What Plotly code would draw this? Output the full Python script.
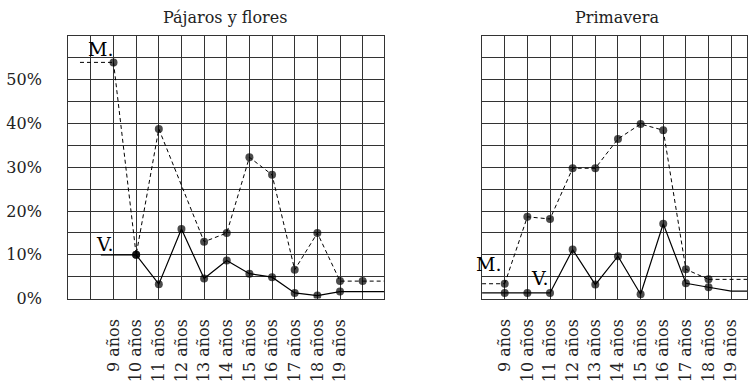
import plotly.graph_objects as go

# Age columns (x positions) and their tick labels
edades = list(range(9, 21))
etiquetas_edad = [f"{a} años" for a in range(9, 20)]
valores_edad = list(range(9, 20))

# Percentages per age: M. (dashed) and V. (solid)
pajaros_m = [54.0, 10.0, 38.8, None, 13.0, 15.0, 32.3, 28.3, 6.6, 15.0, 4.0, 4.0]
pajaros_v = [None, 10.0, 3.3, 15.9, 4.6, 8.7, 5.7, 4.9, 1.3, 0.7, 1.6, None]
primavera_m = [3.4, 18.7, 18.2, 29.8, 29.8, 36.5, 39.9, 38.5, 6.7, 4.4, None, None]
primavera_v = [1.3, 1.3, 1.3, 11.2, 3.2, 9.7, 1.0, 17.1, 3.5, 2.6, 1.7, None]
primavera_v_marcado = [True] * 10 + [False, False]

y_ticks = [0, 10, 20, 30, 40, 50]
y_labels = [f"{v}%" for v in y_ticks]

W, H = 748, 382
FONT = "DejaVu Serif"
INK = "#000000"
GRID = "#333333"

# pixel frame of each panel
top_px, bottom_px = 37.3, 308.3
left_px1, right_px1 = 68.3, 384.5
left_px2, right_px2 = 482.7, 748.0
col_px = 22.68
x1_range = [7, 7 + (right_px1 - left_px1) / col_px]
x2_range = [8, 8 + (right_px2 - left_px2) / col_px]

fig = go.Figure()


def first_last(xs, ys):
    pts = [(x, y) for x, y in zip(xs, ys) if y is not None]
    return pts[0], pts[-1]


def add_series(xs, ys, dash, xa, ya, lead_from=None, tail_to=None, marked=None):
    width = 1.0 if dash != "solid" else 1.2
    line = dict(color=INK, width=width, dash=dash)
    sizes = [8 if (marked is None or marked[i]) else 0 for i in range(len(xs))]
    fig.add_trace(go.Scatter(
        x=xs, y=ys, mode="lines+markers", connectgaps=True,
        line=line, marker=dict(color=INK, size=sizes, line=dict(width=0)),
        xaxis=xa, yaxis=ya, showlegend=False, hoverinfo="skip"))
    (x0, y0), (x1, y1) = first_last(xs, ys)
    if lead_from is not None:
        fig.add_trace(go.Scatter(x=[lead_from, x0], y=[y0, y0], mode="lines",
                                 line=line, xaxis=xa, yaxis=ya,
                                 showlegend=False, hoverinfo="skip"))
    if tail_to is not None:
        fig.add_trace(go.Scatter(x=[x1, tail_to], y=[y1, y1], mode="lines",
                                 line=line, xaxis=xa, yaxis=ya,
                                 showlegend=False, hoverinfo="skip"))


DASH = "4px,3px"
add_series(edades, pajaros_m, DASH, "x", "y", lead_from=7.52, tail_to=x1_range[1])
add_series(edades, pajaros_v, "solid", "x", "y", lead_from=8.44, tail_to=x1_range[1])
add_series(edades, primavera_m, DASH, "x2", "y2", lead_from=x2_range[0], tail_to=x2_range[1])
add_series(edades, primavera_v, "solid", "x2", "y2", lead_from=x2_range[0],
           tail_to=x2_range[1], marked=primavera_v_marcado)

xaxis_common = dict(
    tickmode="array", tickvals=valores_edad, ticktext=etiquetas_edad,
    tickangle=-90, ticks="", ticklabelstandoff=13,
    tickfont=dict(family=FONT, size=16, color="#222"),
    showgrid=True, gridcolor=GRID, gridwidth=1.3,
    minor=dict(tick0=0, dtick=1, showgrid=True, gridcolor=GRID, gridwidth=1.3),
    showline=True, linecolor=GRID, linewidth=1.3, mirror=True, zeroline=False,
    fixedrange=True,
)
yaxis_common = dict(
    range=[0, 60], tickmode="array", tickvals=y_ticks, ticktext=y_labels,
    ticks="", ticklabelstandoff=22,
    tickfont=dict(family=FONT, size=16, color="#222"),
    showgrid=True, gridcolor=GRID, gridwidth=1.3,
    minor=dict(tick0=0, dtick=5, showgrid=True, gridcolor=GRID, gridwidth=1.3),
    showline=True, linecolor=GRID, linewidth=1.3, mirror=True, zeroline=False,
    fixedrange=True,
)

fig.update_layout(
    width=W, height=H, margin=dict(l=0, r=0, t=0, b=0),
    paper_bgcolor="white", plot_bgcolor="white",
    xaxis=dict(xaxis_common, range=x1_range, anchor="y",
               domain=[left_px1 / W, right_px1 / W]),
    yaxis=dict(yaxis_common, anchor="x",
               domain=[1 - bottom_px / H, 1 - top_px / H]),
    xaxis2=dict(xaxis_common, range=x2_range, anchor="y2",
                domain=[left_px2 / W, right_px2 / W]),
    yaxis2=dict(yaxis_common, anchor="x2", showticklabels=False,
                domain=[1 - bottom_px / H, 1 - top_px / H]),
)

# Panel titles
for texto, cx in [("Pájaros y flores", 225), ("Primavera", 618)]:
    fig.add_annotation(text=texto, x=cx / W, y=1 - 18 / H, xref="paper", yref="paper",
                       xanchor="center", yanchor="middle", showarrow=False,
                       font=dict(family=FONT, size=16, color="#222"))

# Series markers M. / V.
serie_labels = [
    ("M.", 8.44, 57.0, "x", "y"),
    ("V.", 8.62, 12.5, "x", "y"),
    ("M.", 8.32, 7.9, "x2", "y2"),
    ("V.", 10.52, 4.7, "x2", "y2"),
]
for texto, lx, ly, xr, yr in serie_labels:
    fig.add_annotation(text=texto, x=lx, y=ly, xref=xr, yref=yr, showarrow=False,
                       xanchor="center", yanchor="middle",
                       font=dict(family=FONT, size=19, color=INK))

fig.write_html("out.html")
